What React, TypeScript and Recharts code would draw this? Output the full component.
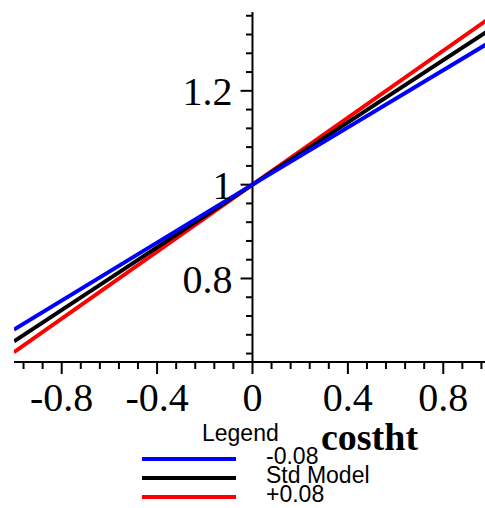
import React from 'react';
import { LineChart, Line, XAxis, YAxis, ReferenceLine, Legend } from 'recharts';

// costht values and the three curves
const costht = [-1, 0, 1];
const minus008 = [0.691, 1, 1.305];
const stdModel = [0.666, 1, 1.332];
const plus008 = [0.643, 1, 1.357];

const seriesNames = ['-0.08', 'Std Model', '+0.08'];
const seriesColors = ['#0000ff', '#000000', '#ff0000'];

const xMajorTicks = [-0.8, -0.4, 0, 0.4, 0.8];
const xMinorTicks = [
  -0.96, -0.88, -0.72, -0.64, -0.56, -0.48, -0.32, -0.24, -0.16, -0.08,
  0.08, 0.16, 0.24, 0.32, 0.48, 0.56, 0.64, 0.72, 0.88, 0.96,
];
const yMajorTicks = [0.8, 1, 1.2];
const yMinorTicks = [
  0.64, 0.68, 0.72, 0.76, 0.84, 0.88, 0.92, 0.96,
  1.04, 1.08, 1.12, 1.16, 1.24, 1.28, 1.32, 1.36,
];

const X_DOMAIN: [number, number] = [-1, 0.975];
const Y_DOMAIN: [number, number] = [0.622, 1.368];
const MAJOR_LEN = 0.05; // tick length in costht units
const MINOR_LEN = 0.027;

const SERIF = '"Liberation Serif", "Times New Roman", serif';
const SANS = '"Liberation Sans", Arial, sans-serif';

const data = costht.map((x, i) => ({
  x,
  minus: minus008[i],
  std: stdModel[i],
  plus: plus008[i],
}));

const renderLegend = () => (
  <div style={{ fontFamily: SANS, fontSize: 23, color: '#000', lineHeight: '19px' }}>
    <div style={{ marginLeft: 60, marginBottom: 6 }}>Legend</div>
    {seriesNames.map((name, i) => (
      <div key={name} style={{ display: 'flex', alignItems: 'center', height: 19 }}>
        <span style={{ display: 'inline-block', width: 94, height: 4, background: seriesColors[i], marginRight: 30 }} />
        <span style={{ position: 'relative', top: -2 }}>{name}</span>
      </div>
    ))}
  </div>
);

export default function App() {
  return (
    <div style={{ position: 'fixed', left: 0, top: 0, width: 485, height: 508, background: '#fff' }}>
      <LineChart
        width={485}
        height={508}
        data={data}
        margin={{ top: 12, right: 0, bottom: 144, left: 14 }}
      >
        <XAxis
          dataKey="x"
          type="number"
          domain={X_DOMAIN}
          allowDataOverflow
          ticks={xMajorTicks}
          interval={0}
          height={1}
          stroke="#000"
          axisLine={{ strokeWidth: 2 }}
          tickLine={{ strokeWidth: 2 }}
          tickSize={12}
          tickMargin={9}
          tick={{ fill: '#000', fontSize: 40, fontFamily: SERIF }}
          label={{
            value: 'costht',
            position: 'bottom',
            offset: 60,
            dx: 120,
            fill: '#000',
            fontSize: 38,
            fontWeight: 'bold',
            fontFamily: SERIF,
          }}
        />
        <XAxis
          xAxisId="minor"
          dataKey="x"
          type="number"
          domain={X_DOMAIN}
          allowDataOverflow
          ticks={xMinorTicks}
          interval={0}
          height={1}
          stroke="#000"
          axisLine={false}
          tickLine={{ strokeWidth: 2 }}
          tickSize={6}
          tickFormatter={() => ''}
        />
        <YAxis type="number" domain={Y_DOMAIN} allowDataOverflow hide />

        <ReferenceLine x={0} stroke="#000" strokeWidth={2} />
        {yMajorTicks.map((v) => (
          <ReferenceLine
            key={'ymaj' + v}
            segment={[{ x: -MAJOR_LEN, y: v }, { x: 0, y: v }]}
            stroke="#000"
            strokeWidth={2}
            label={{
              value: String(v),
              position: 'left',
              offset: 8,
              fill: '#000',
              fontSize: 40,
              fontFamily: SERIF,
            }}
          />
        ))}
        {yMinorTicks.map((v) => (
          <ReferenceLine
            key={'ymin' + v}
            segment={[{ x: -MINOR_LEN, y: v }, { x: 0, y: v }]}
            stroke="#000"
            strokeWidth={2}
          />
        ))}

        <Line type="linear" dataKey="plus" name={seriesNames[2]} stroke={seriesColors[2]} strokeWidth={4} dot={false} isAnimationActive={false} />
        <Line type="linear" dataKey="std" name={seriesNames[1]} stroke={seriesColors[1]} strokeWidth={4} dot={false} isAnimationActive={false} />
        <Line type="linear" dataKey="minus" name={seriesNames[0]} stroke={seriesColors[0]} strokeWidth={4} dot={false} isAnimationActive={false} />

        <Legend
          layout="horizontal"
          verticalAlign="middle"
          align="center"
          content={renderLegend}
          wrapperStyle={{ left: 142, top: 424, width: 320 }}
        />
      </LineChart>
    </div>
  );
}
